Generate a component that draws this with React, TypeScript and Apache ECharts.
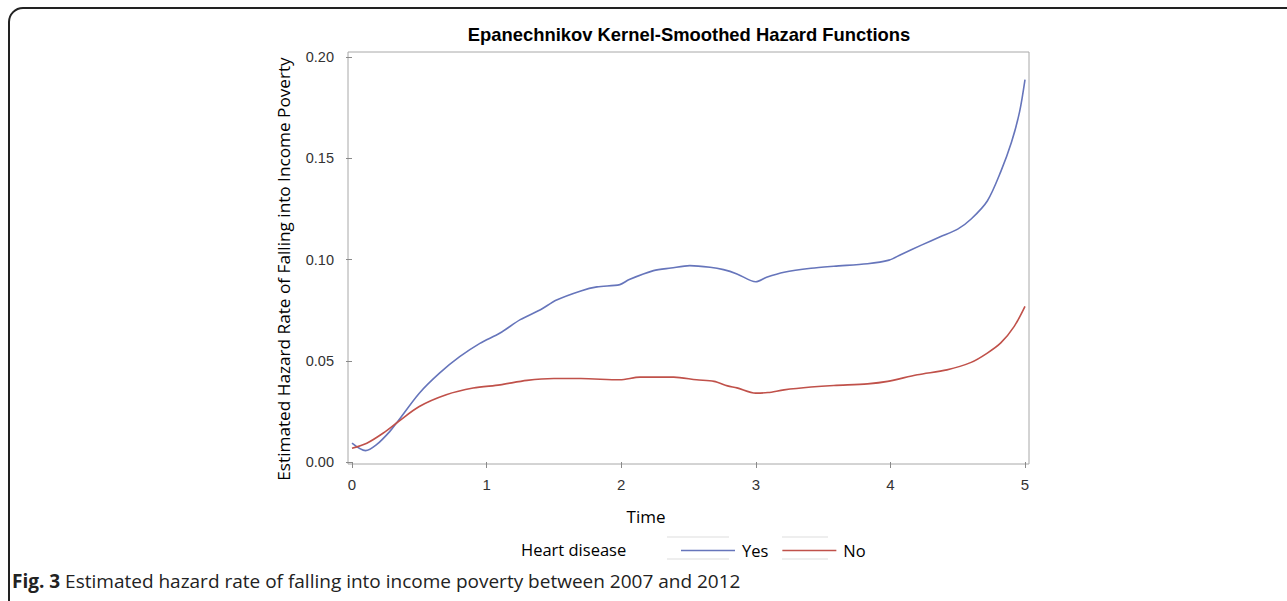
import React, { useEffect, useRef } from "react";
import * as echarts from "echarts";

const yesTime = [0, 0.1, 0.18, 0.28, 0.345, 0.5, 0.65, 0.8, 0.95, 1.1, 1.25, 1.4, 1.52, 1.7, 1.82, 1.99, 2.06, 2.24, 2.37, 2.51, 2.66, 2.76, 2.86, 3.0, 3.08, 3.21, 3.41, 3.58, 3.83, 3.99, 4.08, 4.23, 4.37, 4.5, 4.6, 4.72, 4.82, 4.9, 4.96, 5.0];
const yesHazard = [0.0093, 0.0056, 0.0084, 0.015, 0.0205, 0.034, 0.0439, 0.052, 0.0586, 0.0637, 0.0703, 0.0752, 0.08, 0.0845, 0.0865, 0.0876, 0.0901, 0.0945, 0.0958, 0.097, 0.0962, 0.095, 0.0929, 0.089, 0.0912, 0.0937, 0.0957, 0.0967, 0.0979, 0.0997, 0.1025, 0.1071, 0.1112, 0.115, 0.12, 0.1289, 0.1434, 0.158, 0.173, 0.1888];

const noTime = [0, 0.11, 0.23, 0.345, 0.5, 0.7, 0.9, 1.1, 1.3, 1.5, 1.7, 1.99, 2.14, 2.39, 2.56, 2.69, 2.79, 2.86, 3.0, 3.09, 3.21, 3.41, 3.58, 3.83, 3.98, 4.2, 4.42, 4.6, 4.72, 4.82, 4.92, 5.0];
const noHazard = [0.0068, 0.0093, 0.0142, 0.02, 0.0274, 0.0332, 0.0365, 0.0381, 0.0403, 0.0412, 0.0412, 0.0406, 0.0419, 0.0419, 0.0406, 0.0398, 0.0376, 0.0366, 0.034, 0.0343, 0.0356, 0.037, 0.0378, 0.0386, 0.0398, 0.0431, 0.0455, 0.0492, 0.0538, 0.0588, 0.067, 0.0769];

const seriesNames = ["Yes", "No"];
const titleText = "Epanechnikov Kernel-Smoothed Hazard Functions";
const yAxisTitle = "Estimated Hazard Rate of Falling into Income Poverty";
const xAxisTitle = "Time";
const legendTitle = "Heart disease";
const captionBold = "Fig. 3";
const captionText = " Estimated hazard rate of falling into income poverty between 2007 and 2012";

const tickFont = "'Liberation Sans Narrow', 'Arial Narrow', sans-serif";
const textFont = "'Open Sans', 'Noto Sans', sans-serif";

export default function App() {
  const ref = useRef<HTMLDivElement>(null);
  useEffect(() => {
    document.body.style.margin = "0";
    const chart = echarts.init(ref.current!, null, { renderer: "svg" });
    const pair = (t: number[], v: number[]) => t.map((x, i) => [x, v[i]]);
    chart.setOption({
      animation: false,
      backgroundColor: "#ffffff",
      title: {
        text: titleText,
        left: 684,
        textAlign: "center",
        top: 20,
        textStyle: { fontFamily: "'Liberation Sans', Arial, sans-serif", fontWeight: "bold", fontSize: 18.4, color: "#000" },
      },
      grid: { left: 352, right: 262, top: 57, bottom: 139 },
      xAxis: {
        type: "value",
        min: 0,
        max: 5,
        interval: 1,
        offset: 2,
        axisLine: { show: false },
        axisTick: { show: true, length: 6, lineStyle: { color: "#8a8a8a" } },
        axisLabel: { margin: 13, fontFamily: tickFont, fontSize: 15, color: "#333" },
        splitLine: { show: false },
      },
      yAxis: {
        type: "value",
        min: 0,
        max: 0.2,
        interval: 0.05,
        offset: 4,
        axisLine: { show: false },
        axisTick: { show: true, length: 6, lineStyle: { color: "#8a8a8a" } },
        axisLabel: { margin: 14, fontFamily: tickFont, fontSize: 14.5, color: "#333", formatter: (v: number) => v.toFixed(2) },
        splitLine: { show: false },
      },
      legend: {
        data: seriesNames,
        left: 676,
        top: 537,
        icon: "rect",
        itemWidth: 54,
        itemHeight: 1.6,
        itemGap: 14,
        textStyle: { fontFamily: textFont, fontSize: 16.5, color: "#000", padding: [0, 0, 0, 2] },
      },
      series: [
        {
          name: seriesNames[0],
          type: "line",
          data: pair(yesTime, yesHazard),
          smooth: 0.3,
          symbol: "none",
          lineStyle: { color: "#6675bb", width: 1.6 },
          itemStyle: { color: "#6675bb" },
        },
        {
          name: seriesNames[1],
          type: "line",
          data: pair(noTime, noHazard),
          smooth: 0.3,
          symbol: "none",
          lineStyle: { color: "#c0514a", width: 1.6 },
          itemStyle: { color: "#c0514a" },
        },
      ],
      graphic: [
        {
          type: "rect",
          shape: { x: 9, y: 8, width: 1400, height: 700, r: [14, 0, 0, 0] },
          style: { fill: "none", stroke: "#222", lineWidth: 2 },
          silent: true,
        },
        {
          type: "rect",
          shape: { x: 348, y: 52, width: 681, height: 412 },
          style: { fill: "none", stroke: "#a8a8a8", lineWidth: 1 },
          silent: true,
        },
        {
          type: "text",
          x: 283,
          y: 269,
          rotation: Math.PI / 2,
          style: { text: yAxisTitle, fontFamily: textFont, fontSize: 17.2, fill: "#000", align: "center", verticalAlign: "middle" },
        },
        {
          type: "text",
          x: 646,
          y: 516,
          style: { text: xAxisTitle, fontFamily: textFont, fontSize: 17, fill: "#000", align: "center", verticalAlign: "middle" },
        },
        {
          type: "text",
          x: 521,
          y: 549,
          style: { text: legendTitle, fontFamily: textFont, fontSize: 16.5, fill: "#000", align: "left", verticalAlign: "middle" },
        },
        { type: "line", shape: { x1: 667, y1: 537, x2: 729, y2: 537 }, style: { stroke: "#dddddd", lineWidth: 1 }, silent: true },
        { type: "line", shape: { x1: 667, y1: 559, x2: 729, y2: 559 }, style: { stroke: "#dddddd", lineWidth: 1 }, silent: true },
        { type: "line", shape: { x1: 782, y1: 537, x2: 828, y2: 537 }, style: { stroke: "#dddddd", lineWidth: 1 }, silent: true },
        { type: "line", shape: { x1: 782, y1: 559, x2: 828, y2: 559 }, style: { stroke: "#dddddd", lineWidth: 1 }, silent: true },
        {
          type: "text",
          x: 12,
          y: 581,
          style: {
            text: "{b|" + captionBold + "}" + captionText,
            fontFamily: textFont,
            fontSize: 19,
            fill: "#222",
            verticalAlign: "middle",
            rich: { b: { fontFamily: textFont, fontSize: 19, fontWeight: "bold", fill: "#222" } },
          },
        },
      ],
    });
    return () => chart.dispose();
  }, []);
  return <div ref={ref} style={{ width: 1287, height: 601, position: "absolute", left: 0, top: 0 }} />;
}
